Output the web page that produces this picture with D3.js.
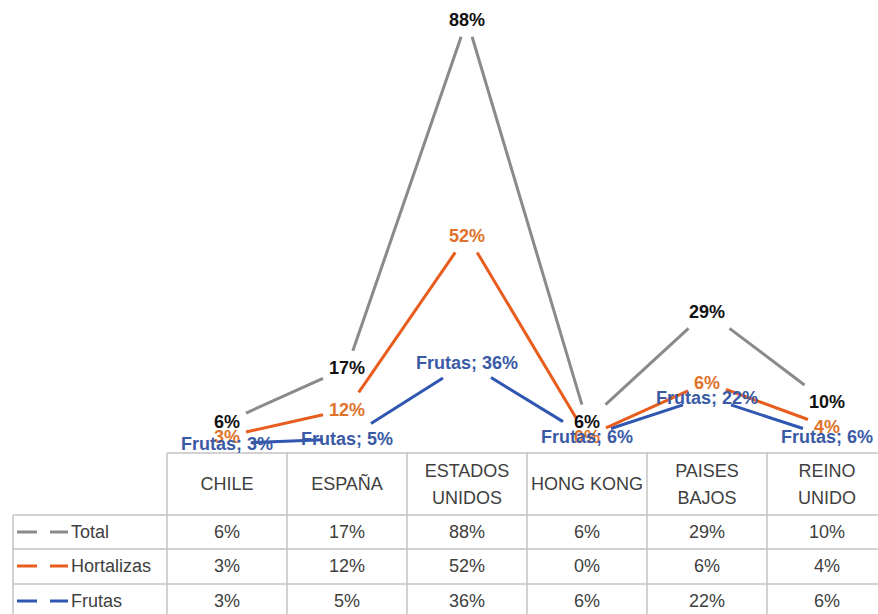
<!DOCTYPE html>
<html>
<head>
<meta charset="utf-8">
<script src="https://cdn.jsdelivr.net/npm/d3@7"></script>
<style>
  body { margin: 0; background: #fff; }
  svg { display: block; font-family: "Liberation Sans", Arial, sans-serif; }
</style>
</head>
<body>
<script>
// data
const categories = ['CHILE', 'ESPAÑA', 'ESTADOS UNIDOS', 'HONG KONG', 'PAISES BAJOS', 'REINO UNIDO'];
const headerLines = [['CHILE'], ['ESPAÑA'], ['ESTADOS', 'UNIDOS'], ['HONG KONG'], ['PAISES', 'BAJOS'], ['REINO', 'UNIDO']];
const total = [6, 17, 88, 6, 29, 10];
const hortalizas = [3, 12, 52, 0, 6, 4];
const frutas = [3, 5, 36, 6, 22, 6];
// table rows top to bottom, stack order bottom to top
const tableOrder = ['Total', 'Hortalizas', 'Frutas'];
const stackOrder = ['Frutas', 'Hortalizas', 'Total'];

const values = { Total: total, Hortalizas: hortalizas, Frutas: frutas };
const lineColor = { Total: '#8a8a8a', Hortalizas: '#e85d1e', Frutas: '#2f56b0' };
const labelColor = { Total: '#111111', Hortalizas: '#e0732c', Frutas: '#3a5aa6' };

const W = 878, H = 614;
const svg = d3.select('body').append('svg').attr('width', W).attr('height', H);

const x = d3.scaleBand().domain(categories).range([167, 887]);
const y = d3.scaleLinear().domain([0, 180]).range([451, 10]);

const rows = categories.map((c, i) => ({ cat: c, Total: total[i], Hortalizas: hortalizas[i], Frutas: frutas[i] }));
const stacked = d3.stack().keys(stackOrder)(rows);

// table
const table = svg.append('g');
const gridColor = '#c3c3c3';
const headTop = 453, rowTops = [515, 549, 584], tableBottom = 640;
const legLeft = 13;

table.append('line').attr('x1', x.range()[0]).attr('x2', W).attr('y1', headTop).attr('y2', headTop);
rowTops.forEach(t => {
  table.append('line').attr('x1', legLeft).attr('x2', W).attr('y1', t).attr('y2', t);
});
table.append('line').attr('x1', legLeft).attr('x2', legLeft).attr('y1', rowTops[0]).attr('y2', tableBottom);
categories.forEach(c => {
  table.append('line').attr('x1', x(c)).attr('x2', x(c)).attr('y1', headTop).attr('y2', tableBottom);
});
table.selectAll('line').attr('stroke', gridColor).attr('stroke-width', 1.5);

const headCenter = (headTop + rowTops[0]) / 2;
categories.forEach((c, i) => {
  const lines = headerLines[i];
  const t = table.append('text')
    .attr('text-anchor', 'middle')
    .attr('fill', '#404040')
    .attr('font-size', 18);
  lines.forEach((ln, j) => {
    t.append('tspan')
      .attr('x', x(c) + x.bandwidth() / 2)
      .attr('y', headCenter + (j - (lines.length - 1) / 2) * 27)
      .attr('dy', '0.36em')
      .text(ln);
  });
});

tableOrder.forEach((key, r) => {
  const cy = rowTops[r] + 17;
  const leg = table.append('g');
  leg.append('line').attr('x1', 17).attr('x2', 37);
  leg.append('line').attr('x1', 50).attr('x2', 68);
  leg.selectAll('line')
    .attr('y1', cy).attr('y2', cy)
    .attr('stroke', lineColor[key]).attr('stroke-width', 3);
  leg.append('text')
    .attr('x', 71).attr('y', cy).attr('dy', '0.36em')
    .attr('fill', '#404040').attr('font-size', 18)
    .text(key);
  values[key].forEach((v, i) => {
    table.append('text')
      .attr('x', x(categories[i]) + x.bandwidth() / 2)
      .attr('y', cy).attr('dy', '0.36em')
      .attr('text-anchor', 'middle')
      .attr('fill', '#404040').attr('font-size', 18)
      .text(v + '%');
  });
});

// labels first (to measure), lines below them
const lineLayer = svg.append('g');
const labelLayer = svg.append('g');

const points = {};
stacked.forEach(s => {
  points[s.key] = s.map((d, i) => ({
    x: x(categories[i]) + x.bandwidth() / 2,
    y: y(d[1]),
    v: values[s.key][i]
  }));
});

['Hortalizas', 'Frutas', 'Total'].forEach(key => {
  points[key].forEach(p => {
    const txt = key === 'Frutas' ? 'Frutas; ' + p.v + '%' : p.v + '%';
    const t = labelLayer.append('text')
      .attr('x', p.x).attr('y', p.y).attr('dy', '0.36em')
      .attr('text-anchor', 'middle')
      .attr('font-size', 18).attr('font-weight', 'bold')
      .attr('fill', labelColor[key])
      .text(txt);
    // gap around each point, the way the lines stop short in the original
    p.hw = Math.min(t.node().getComputedTextLength() / 2 + 6, 24);
    p.hh = 17;
  });
});

function trim(p, q) {
  const dx = q.x - p.x, dy = q.y - p.y;
  const f = (b) => Math.min(dx ? b.hw / Math.abs(dx) : Infinity, dy ? b.hh / Math.abs(dy) : Infinity);
  const t1 = f(p), t2 = f(q);
  if (t1 + t2 >= 1) return null;
  return [[p.x + t1 * dx, p.y + t1 * dy], [q.x - t2 * dx, q.y - t2 * dy]];
}

stackOrder.forEach(key => {
  const pts = points[key];
  for (let i = 0; i < pts.length - 1; i++) {
    const seg = trim(pts[i], pts[i + 1]);
    if (!seg) continue;
    lineLayer.append('path')
      .attr('d', d3.line()(seg))
      .attr('stroke', lineColor[key])
      .attr('stroke-width', 3)
      .attr('fill', 'none');
  }
});
</script>
</body>
</html>
